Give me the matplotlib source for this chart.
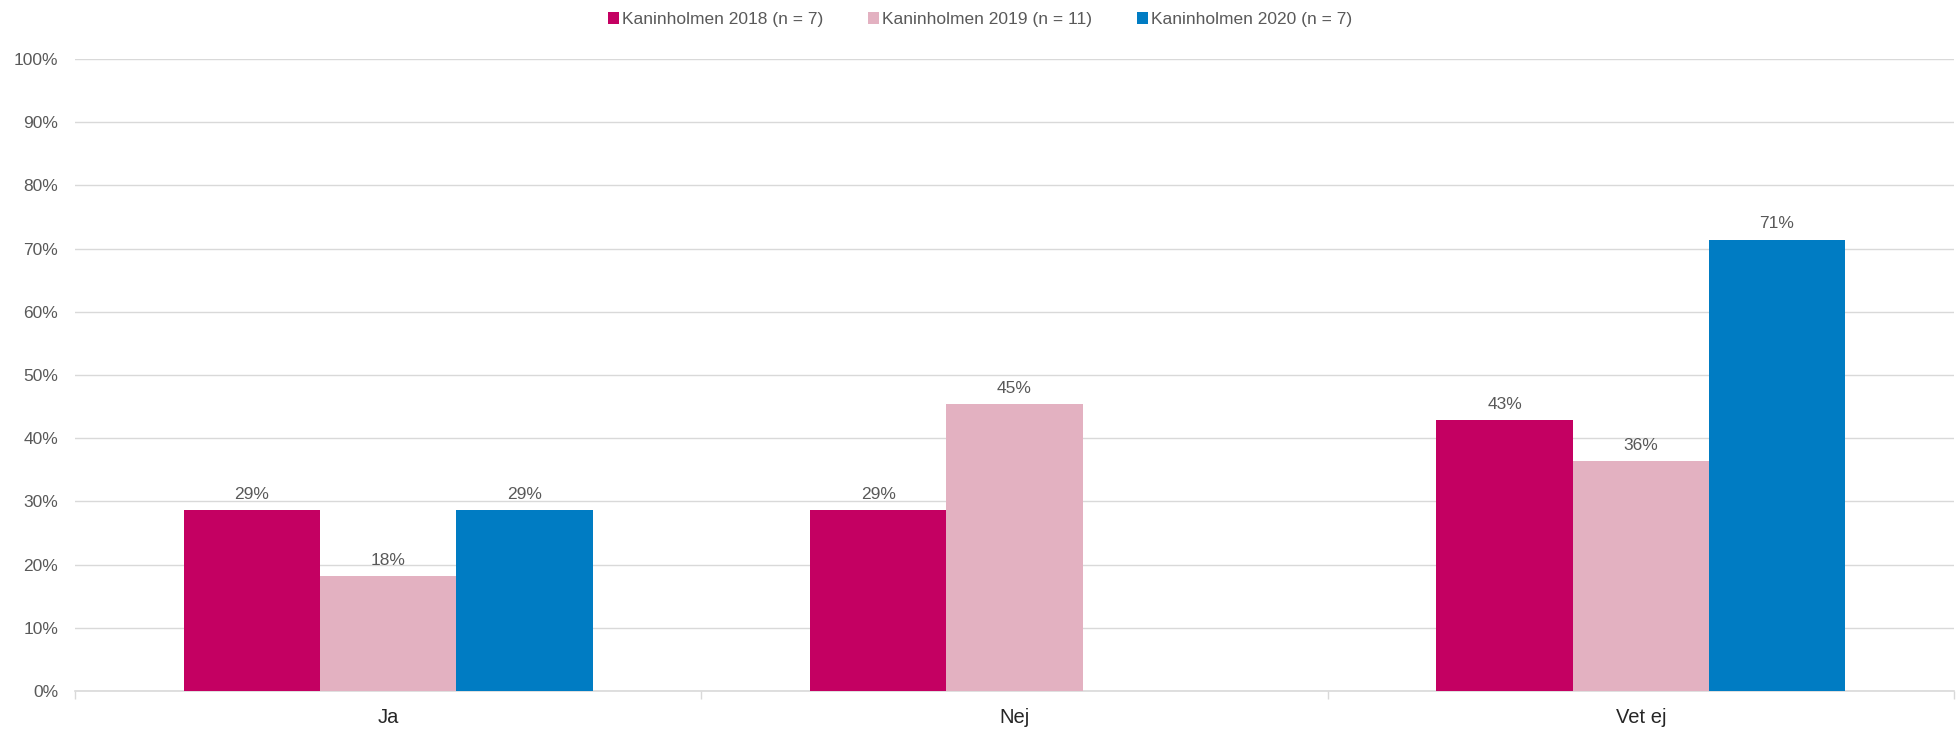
import numpy as np
import matplotlib.pyplot as plt
from matplotlib.ticker import PercentFormatter

plt.rcParams['font.family'] = ['Liberation Sans', 'DejaVu Sans']

categories = ['Ja', 'Nej', 'Vet ej']
series_names = ['Kaninholmen 2018 (n = 7)', 'Kaninholmen 2019 (n = 11)', 'Kaninholmen 2020 (n = 7)']
values_2018 = [28.57, 28.57, 42.86]
values_2019 = [18.18, 45.45, 36.36]
values_2020 = [28.57, 0.0, 71.43]
colors = ['#c40062', '#e3b1c1', '#007cc3']

series = [values_2018, values_2019, values_2020]

fig = plt.figure(figsize=(19.6, 7.29), dpi=100)
ax = fig.add_axes([75 / 1960, 1 - 691 / 729, 1879 / 1960, (691 - 59) / 729])

x = np.arange(len(categories))
width = 0.2175
grid_c = '#d9d9d9'
text_c = '#595959'

for i, (vals, name, col) in enumerate(zip(series, series_names, colors)):
    pos = x + (i - 1) * width
    bars = ax.bar(pos, vals, width, color=col, label=name, zorder=3)
    for b, v in zip(bars, vals):
        if v > 0:
            ax.text(b.get_x() + b.get_width() / 2, v + 1.3, '{:.0f}%'.format(v),
                    ha='center', va='bottom', fontsize=12.5, color=text_c)

ax.set_xlim(-0.5, len(categories) - 0.5)
ax.set_ylim(0, 100)
ax.set_yticks(np.arange(0, 101, 10))
ax.yaxis.set_major_formatter(PercentFormatter(decimals=0))
ax.grid(axis='y', color=grid_c, linewidth=1, zorder=0)

ax.set_xticks(x)
ax.set_xticklabels(categories, fontsize=14.5, color='#262626')
ax.set_xticks(np.arange(-0.5, len(categories), 1), minor=True)
ax.tick_params(axis='x', which='major', length=0, pad=12)
ax.tick_params(axis='x', which='minor', length=6, color=grid_c, width=1)
ax.tick_params(axis='y', length=0, labelsize=12.5, labelcolor=text_c, pad=12)

for s in ['top', 'right', 'left']:
    ax.spines[s].set_visible(False)
ax.spines['bottom'].set_color(grid_c)
ax.spines['bottom'].set_linewidth(1.2)

fig.legend(loc='upper center', bbox_to_anchor=(0.5, 1.005), ncol=3, frameon=False,
           fontsize=12.5, labelcolor=text_c, handlelength=0.65, handleheight=0.65,
           handletextpad=0.15, columnspacing=2.6)

fig.savefig('out.png', dpi=100)
